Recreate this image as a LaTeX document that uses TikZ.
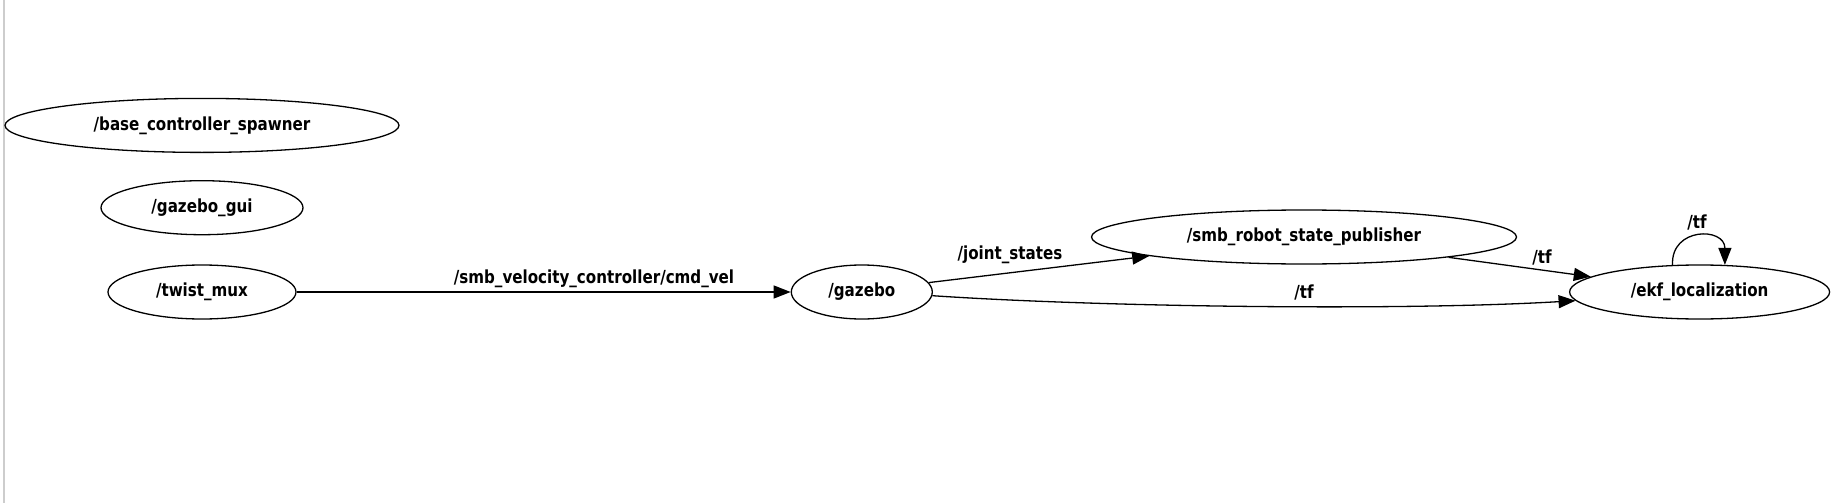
\documentclass[tikz,border=0pt]{standalone}
\usepackage{fontspec}
\setmainfont{DejaVu Sans}[FakeStretch=0.84]
\usepackage{tikz}
\usetikzlibrary{arrows.meta,positioning,shapes.geometric}
\definecolor{rqtFrame}{HTML}{CDCDCD}

\begin{document}
\begin{tikzpicture}[
  x=1pt,y=-1pt,
  rosnode/.style={ellipse,draw,line width=1.3pt,minimum height=54pt,inner sep=0pt,
    font=\fontsize{18}{21}\selectfont\bfseries},
  lbl/.style={inner sep=0pt,font=\fontsize{18}{21}\selectfont\bfseries},
  arrow/.style={-{Triangle[length=17pt,width=13pt]},line width=1.3pt}
]
\useasboundingbox (0,0) rectangle (1831,503);
\draw[rqtFrame,line width=2pt] (3.5,0) -- (3.5,503);
% nodes
\node[rosnode,minimum width=188pt] (twist) at (202,292) {/twist\_mux};
\node[rosnode,minimum width=202pt,above=29pt of twist] (gui) {/gazebo\_gui};
\node[rosnode,minimum width=394pt,above=27pt of gui] (spawner) {/base\_controller\_spawner};
\node[rosnode,minimum width=141pt,right=494pt of twist] (gazebo) {/gazebo};
\node[rosnode,minimum width=260pt,right=636pt of gazebo] (ekf) {/ekf\_localization};
\node[rosnode,minimum width=425pt] (rsp) at (1304,237) {/smb\_robot\_state\_publisher};
% topics
\draw[arrow] (twist) -- (gazebo);
\draw[arrow] (gazebo.8) -- (rsp.187);
\draw[arrow] (gazebo.-3) .. controls (1100,307) and (1400,311) .. (ekf.184);
\draw[arrow] (rsp.-8) -- (ekf.172);
\draw[arrow] (ekf.135) .. controls +(-2,-38) and +(0,-38) .. (ekf.47);
\node[lbl] (lcmd) at (594,279) {/smb\_velocity\_controller/cmd\_vel};
\node[lbl] (ljoint) at (1010,255) {/joint\_states};
\node[lbl] (ltfa) at (1304,292) {/tf};
\node[lbl] (ltfb) at (1542,257) {/tf};
\node[lbl] (ltfc) at (1697,222) {/tf};
\end{tikzpicture}
\end{document}
